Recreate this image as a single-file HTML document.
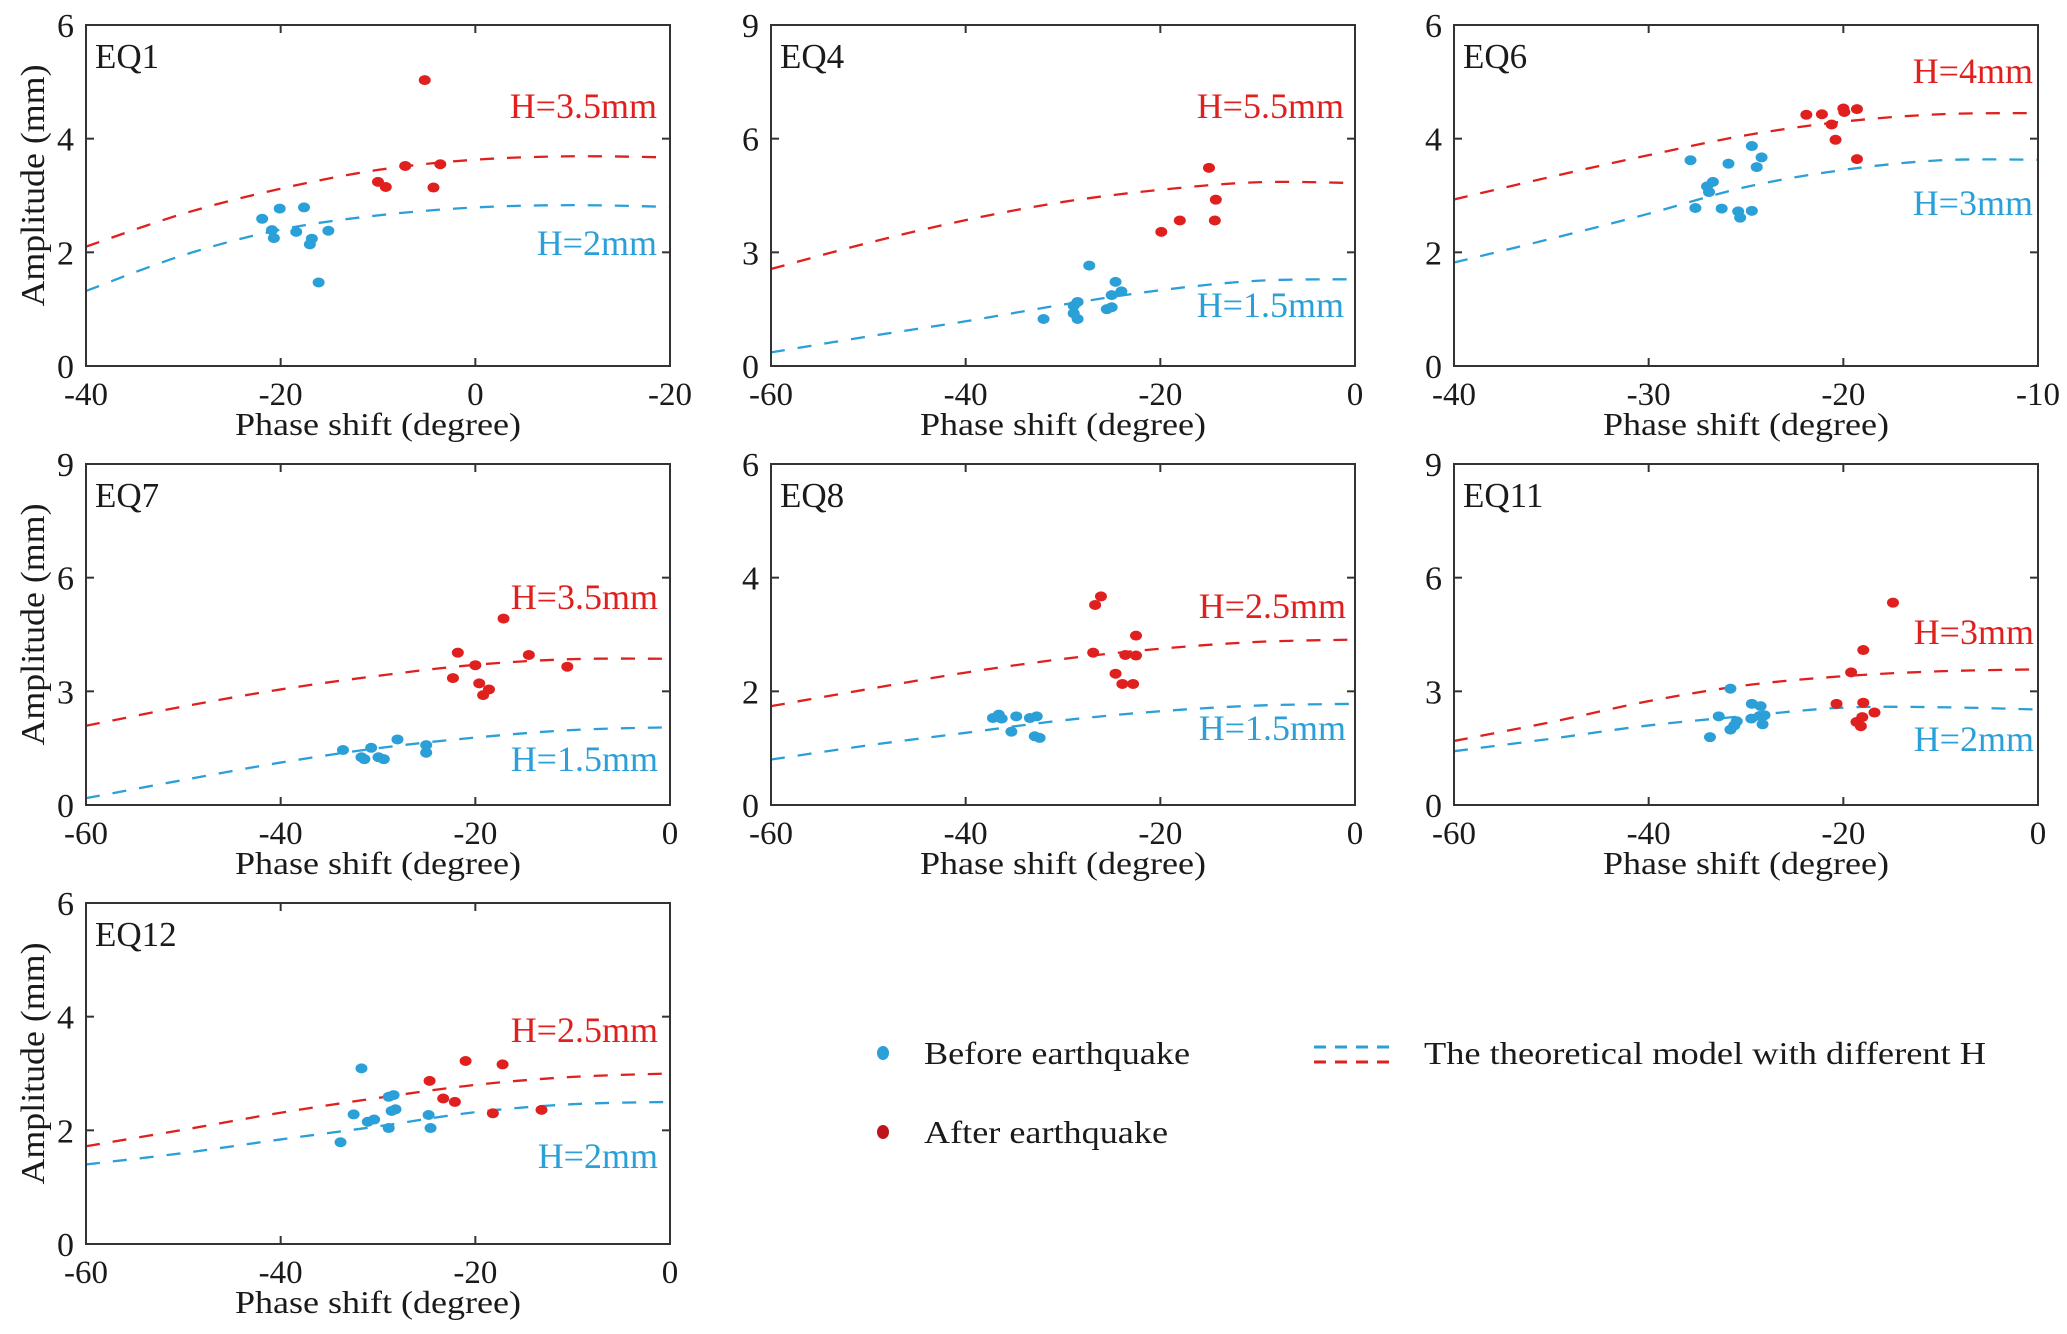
<!DOCTYPE html>
<html><head><meta charset="utf-8">
<style>
html,body{margin:0;padding:0;background:#fff;}
svg{display:block;font-family:"Liberation Serif","Times New Roman",serif;}
</style></head>
<body>
<svg id="fig" width="2067" height="1334" viewBox="0 0 2067 1334" xmlns="http://www.w3.org/2000/svg">
<g id="legend">
  <ellipse cx="883" cy="1053" rx="6" ry="7" fill="#2a9fd8"/>
  <text x="924" y="1064" font-size="32" textLength="266" lengthAdjust="spacingAndGlyphs" fill="#1a1a1a">Before earthquake</text>
  <ellipse cx="883" cy="1132" rx="6" ry="7" fill="#c0141c"/>
  <text x="924" y="1143" font-size="32" textLength="244" lengthAdjust="spacingAndGlyphs" fill="#1a1a1a">After earthquake</text>
  <line x1="1314" y1="1047" x2="1392" y2="1047" stroke="#2a9fd8" stroke-width="3" stroke-dasharray="12,9"/>
  <line x1="1314" y1="1062" x2="1392" y2="1062" stroke="#e0201e" stroke-width="3" stroke-dasharray="12,9"/>
  <text x="1424" y="1064" font-size="32" textLength="562" lengthAdjust="spacingAndGlyphs" fill="#1a1a1a">The theoretical model with different H</text>
</g>
</svg>
<script>
// ---------- data ----------
const eq1BeforeX=[-21.9,-20.1,-20.9,-20.7,-18.4,-17.6,-16.8,-17.0,-15.1,-16.1];
const eq1BeforeY=[2.59,2.77,2.39,2.25,2.36,2.79,2.24,2.14,2.38,1.47];
const eq1AfterX=[-5.2,-10.0,-9.2,-7.2,-4.3,-3.6];
const eq1AfterY=[5.03,3.24,3.15,3.52,3.14,3.55];
const eq1CurveX=[-40,-30,-20,-10,0,10,20];
const eq1RedY=[2.10,2.68,3.12,3.45,3.63,3.69,3.67];
const eq1BlueY=[1.32,1.95,2.40,2.65,2.79,2.83,2.80];

const eq4BeforeX=[-32.0,-28.9,-28.9,-28.5,-28.5,-27.3,-25.5,-25.0,-25.0,-24.6,-24.0];
const eq4BeforeY=[1.24,1.59,1.39,1.69,1.24,2.65,1.50,1.55,1.87,2.22,1.97];
const eq4AfterX=[-19.9,-18.0,-15.0,-14.3,-14.4];
const eq4AfterY=[3.54,3.84,5.23,4.39,3.84];
const eq4CurveX=[-60,-50,-40,-30,-20,-10,0];
const eq4RedY=[2.56,3.25,3.85,4.33,4.65,4.85,4.83];
const eq4BlueY=[0.36,0.78,1.18,1.62,2.00,2.25,2.29];

const eq6BeforeX=[-27.85,-27.6,-27.0,-26.7,-26.9,-26.25,-25.9,-25.4,-25.3,-24.7,-24.7,-24.45,-24.2];
const eq6BeforeY=[3.62,2.78,3.16,3.24,3.06,2.77,3.56,2.72,2.61,2.73,3.87,3.50,3.67];
const eq6AfterX=[-21.9,-21.1,-20.6,-20.4,-20.0,-19.95,-19.3,-19.3];
const eq6AfterY=[4.42,4.43,4.25,3.98,4.53,4.47,4.52,3.64];
const eq6CurveX=[-40,-35,-30,-25,-20,-15,-10];
const eq6RedY=[2.93,3.33,3.71,4.06,4.30,4.43,4.45];
const eq6BlueY=[1.82,2.24,2.68,3.15,3.45,3.62,3.63];

const eq7BeforeX=[-33.6,-31.7,-31.4,-30.7,-29.95,-29.4,-28.0,-25.05,-25.05];
const eq7BeforeY=[1.45,1.26,1.21,1.51,1.26,1.21,1.73,1.58,1.38];
const eq7AfterX=[-21.8,-22.3,-20.0,-19.6,-18.6,-19.2,-17.1,-14.5,-10.55];
const eq7AfterY=[4.02,3.35,3.69,3.21,3.05,2.90,4.92,3.96,3.65];
const eq7CurveX=[-60,-50,-40,-30,-20,-10,0];
const eq7RedY=[2.09,2.60,3.05,3.41,3.70,3.85,3.86];
const eq7BlueY=[0.18,0.66,1.12,1.50,1.78,1.98,2.05];

const eq8BeforeX=[-37.2,-36.6,-36.3,-34.8,-35.3,-33.4,-32.7,-32.9,-32.4];
const eq8BeforeY=[1.53,1.59,1.52,1.56,1.29,1.53,1.56,1.21,1.18];
const eq8AfterX=[-26.7,-26.1,-26.9,-24.6,-23.9,-22.8,-23.6,-22.5,-22.5];
const eq8AfterY=[3.52,3.67,2.68,2.31,2.13,2.13,2.64,2.63,2.98];
const eq8CurveX=[-60,-50,-40,-30,-20,-10,0];
const eq8RedY=[1.74,2.04,2.33,2.57,2.75,2.87,2.91];
const eq8BlueY=[0.80,1.05,1.27,1.49,1.65,1.75,1.78];

const eq11BeforeX=[-33.7,-32.8,-31.6,-31.6,-31.2,-30.95,-29.4,-28.5,-29.45,-28.6,-28.1,-28.3];
const eq11BeforeY=[1.79,2.34,3.07,1.99,2.10,2.21,2.67,2.61,2.28,2.35,2.37,2.13];
const eq11AfterX=[-20.7,-19.2,-17.95,-17.95,-18.05,-18.65,-18.2,-16.8,-14.9];
const eq11AfterY=[2.67,3.50,4.09,2.70,2.32,2.19,2.08,2.44,5.34];
const eq11CurveX=[-60,-50,-40,-30,-20,-10,0];
const eq11RedY=[1.69,2.19,2.74,3.16,3.40,3.53,3.58];
const eq11BlueY=[1.42,1.75,2.10,2.35,2.57,2.58,2.52];

const eq12BeforeX=[-33.85,-32.5,-31.7,-31.05,-30.4,-28.9,-28.9,-28.4,-28.6,-28.2,-24.8,-24.6];
const eq12BeforeY=[1.79,2.28,3.09,2.15,2.19,2.04,2.59,2.62,2.34,2.37,2.27,2.04];
const eq12AfterX=[-24.7,-23.3,-22.1,-21.0,-18.2,-17.2,-13.2];
const eq12AfterY=[2.87,2.56,2.50,3.22,2.30,3.16,2.36];
const eq12CurveX=[-60,-50,-40,-30,-20,-10,0];
const eq12RedY=[1.72,2.01,2.31,2.57,2.80,2.94,3.00];
const eq12BlueY=[1.40,1.60,1.84,2.07,2.32,2.46,2.50];

const xTicks60=[-60,-40,-20,0];
const xTickLabels60=["-60","-40","-20","0"];
const xTicksEQ1=[-40,-20,0,20];
const xTickLabelsEQ1=["-40","-20","0","-20"];
const xTicksEQ6=[-40,-30,-20,-10];
const xTickLabelsEQ6=["-40","-30","-20","-10"];
const yTicks6=[0,2,4,6];
const yTicks9=[0,3,6,9];

const panels=[
 {id:"eq1",title:"EQ1",left:86,top:25,xr:[-40,20],xt:xTicksEQ1,xl:xTickLabelsEQ1,ymax:6,yt:yTicks6,bx:eq1BeforeX,by:eq1BeforeY,ax:eq1AfterX,ay:eq1AfterY,cx:eq1CurveX,ry:eq1RedY,uy:eq1BlueY,rl:"H=3.5mm",ul:"H=2mm",rb:93,ub:230,rm:13,ylab:true},
 {id:"eq4",title:"EQ4",left:771,top:25,xr:[-60,0],xt:xTicks60,xl:xTickLabels60,ymax:9,yt:yTicks9,bx:eq4BeforeX,by:eq4BeforeY,ax:eq4AfterX,ay:eq4AfterY,cx:eq4CurveX,ry:eq4RedY,uy:eq4BlueY,rl:"H=5.5mm",ul:"H=1.5mm",rb:93,ub:292,rm:11,ylab:false},
 {id:"eq6",title:"EQ6",left:1454,top:25,xr:[-40,-10],xt:xTicksEQ6,xl:xTickLabelsEQ6,ymax:6,yt:yTicks6,bx:eq6BeforeX,by:eq6BeforeY,ax:eq6AfterX,ay:eq6AfterY,cx:eq6CurveX,ry:eq6RedY,uy:eq6BlueY,rl:"H=4mm",ul:"H=3mm",rb:58,ub:190,rm:5,ylab:false},
 {id:"eq7",title:"EQ7",left:86,top:464,xr:[-60,0],xt:xTicks60,xl:xTickLabels60,ymax:9,yt:yTicks9,bx:eq7BeforeX,by:eq7BeforeY,ax:eq7AfterX,ay:eq7AfterY,cx:eq7CurveX,ry:eq7RedY,uy:eq7BlueY,rl:"H=3.5mm",ul:"H=1.5mm",rb:145,ub:307,rm:12,ylab:true},
 {id:"eq8",title:"EQ8",left:771,top:464,xr:[-60,0],xt:xTicks60,xl:xTickLabels60,ymax:6,yt:yTicks6,bx:eq8BeforeX,by:eq8BeforeY,ax:eq8AfterX,ay:eq8AfterY,cx:eq8CurveX,ry:eq8RedY,uy:eq8BlueY,rl:"H=2.5mm",ul:"H=1.5mm",rb:154,ub:276,rm:9,ylab:false},
 {id:"eq11",title:"EQ11",left:1454,top:464,xr:[-60,0],xt:xTicks60,xl:xTickLabels60,ymax:9,yt:yTicks9,bx:eq11BeforeX,by:eq11BeforeY,ax:eq11AfterX,ay:eq11AfterY,cx:eq11CurveX,ry:eq11RedY,uy:eq11BlueY,rl:"H=3mm",ul:"H=2mm",rb:180,ub:287,rm:4,ylab:false},
 {id:"eq12",title:"EQ12",left:86,top:903,xr:[-60,0],xt:xTicks60,xl:xTickLabels60,ymax:6,yt:yTicks6,bx:eq12BeforeX,by:eq12BeforeY,ax:eq12AfterX,ay:eq12AfterY,cx:eq12CurveX,ry:eq12RedY,uy:eq12BlueY,rl:"H=2.5mm",ul:"H=2mm",rb:139,ub:265,rm:12,ylab:true}
];

// ---------- drawing ----------
const NS="http://www.w3.org/2000/svg";
const svg=document.getElementById("fig");
const W=584,H=341;
const BLUE="#2a9fd8",RED="#e0201e",INK="#1a1a1a";
function mk(tag,attrs,parent){const e=document.createElementNS(NS,tag);for(const k in attrs)e.setAttribute(k,attrs[k]);parent.appendChild(e);return e;}
function smooth(pts){
  let d="M"+pts[0][0].toFixed(2)+","+pts[0][1].toFixed(2);
  for(let i=0;i<pts.length-1;i++){
    const p0=pts[i-1]||pts[i],p1=pts[i],p2=pts[i+1],p3=pts[i+2]||p2;
    const c1=[p1[0]+(p2[0]-p0[0])/6,p1[1]+(p2[1]-p0[1])/6];
    const c2=[p2[0]-(p3[0]-p1[0])/6,p2[1]-(p3[1]-p1[1])/6];
    d+=" C"+c1.map(v=>v.toFixed(2)).join(",")+" "+c2.map(v=>v.toFixed(2)).join(",")+" "+p2[0].toFixed(2)+","+p2[1].toFixed(2);
  }
  return d;
}
panels.forEach(p=>{
  const L=p.left,T=p.top,R=L+W,B=T+H;
  const sx=v=>L+(v-p.xr[0])/(p.xr[1]-p.xr[0])*W;
  const sy=v=>B-v/p.ymax*H;
  const g=mk("g",{},svg);
  
  
  const clipId=p.id+"-clip";
  const cp=mk("clipPath",{id:clipId},g);
  mk("rect",{x:L,y:T,width:W,height:H},cp);
  const cg=mk("g",{"clip-path":"url(#"+clipId+")"},g);
  const red=mk("path",{d:smooth(p.cx.map((x,i)=>[sx(x),sy(p.ry[i])])),fill:"none",stroke:RED,"stroke-width":2.3,"stroke-dasharray":"14,13"},cg);
  
  
  const blue=mk("path",{d:smooth(p.cx.map((x,i)=>[sx(x),sy(p.uy[i])])),fill:"none",stroke:BLUE,"stroke-width":2.3,"stroke-dasharray":"14,13"},cg);
  
  
  p.bx.forEach((x,i)=>{
    const e=mk("ellipse",{cx:sx(x),cy:sy(p.by[i]),rx:6,ry:5,fill:BLUE},g);
    
    
  });
  p.ax.forEach((x,i)=>{
    const e=mk("ellipse",{cx:sx(x),cy:sy(p.ay[i]),rx:6,ry:5,fill:RED},g);
    
    
  });
  const fr=mk("rect",{x:L,y:T,width:W,height:H,fill:"none",stroke:"#333","stroke-width":2},g);
  
  
  p.xt.forEach((v,i)=>{
    const x=sx(v);
    if(i>0&&i<p.xt.length-1){
      mk("line",{x1:x,y1:B,x2:x,y2:B-8,stroke:"#333","stroke-width":2},g);
      mk("line",{x1:x,y1:T,x2:x,y2:T+8,stroke:"#333","stroke-width":2},g);
    }
    const t=mk("text",{x:x,y:B+39,"font-size":33,"text-anchor":"middle",fill:INK},g);
    t.textContent=p.xl[i];
    
    
  });
  p.yt.forEach((v,i)=>{
    const y=sy(v);
    if(i>0&&i<p.yt.length-1){
      mk("line",{x1:L,y1:y,x2:L+8,y2:y,stroke:"#333","stroke-width":2},g);
      mk("line",{x1:R,y1:y,x2:R-8,y2:y,stroke:"#333","stroke-width":2},g);
    }
    const t=mk("text",{x:L-12,y:y+12,"font-size":34,"text-anchor":"end",fill:INK},g);
    t.textContent=String(v);
    
    
  });
  const tt=mk("text",{x:L+9,y:T+43,"font-size":35,fill:INK},g);
  tt.textContent=p.title;
  
  
  const rl=mk("text",{x:R-p.rm,y:T+p.rb,"font-size":36,"text-anchor":"end",fill:RED},g);
  rl.textContent=p.rl;
  
  
  const ul=mk("text",{x:R-p.rm,y:T+p.ub,"font-size":36,"text-anchor":"end",fill:BLUE},g);
  ul.textContent=p.ul;
  
  
  const xt=mk("text",{x:L+W/2,y:B+69,"font-size":32,"text-anchor":"middle",textLength:286,lengthAdjust:"spacingAndGlyphs",fill:INK},g);
  xt.textContent="Phase shift (degree)";
  
  
  if(p.ylab){
    const cyy=T+H/2-10;
    const yt=mk("text",{x:0,y:0,"font-size":34,"text-anchor":"middle",textLength:242,lengthAdjust:"spacingAndGlyphs",fill:INK,transform:"translate(44,"+cyy+") rotate(-90)"},g);
    yt.textContent="Amplitude (mm)";
    
    
  }
});
</script>
</body></html>
